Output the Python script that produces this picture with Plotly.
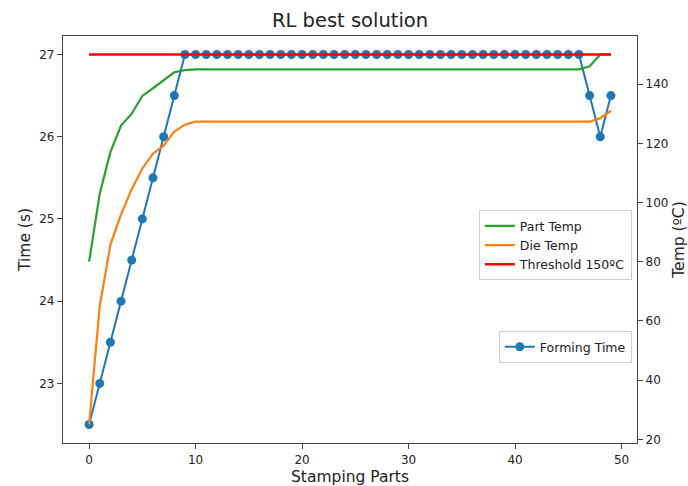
import plotly.graph_objects as go

parts = list(range(50))

forming_time = [22.5, 23.0, 23.5, 24.0, 24.5, 25.0, 25.5, 26.0, 26.5,
                27, 27, 27, 27, 27, 27, 27, 27, 27, 27,
                27, 27, 27, 27, 27, 27, 27, 27, 27, 27,
                27, 27, 27, 27, 27, 27, 27, 27, 27, 27,
                27, 27, 27, 27, 27, 27, 27, 27,
                26.5, 26.0, 26.5]

part_temp = [80, 103, 117, 126, 130, 136, 138.6, 141.2, 144, 144.7,
             145, 145, 145, 145, 145, 145, 145, 145, 145, 145,
             145, 145, 145, 145, 145, 145, 145, 145, 145, 145,
             145, 145, 145, 145, 145, 145, 145, 145, 145, 145,
             145, 145, 145, 145, 145, 145, 145,
             146, 150, 150]

die_temp = [25, 65, 85.7, 96, 104.5, 111.5, 116.5, 119.2, 124, 126.3,
            127.3, 127.3, 127.3, 127.3, 127.3, 127.3, 127.3, 127.3, 127.3, 127.3,
            127.3, 127.3, 127.3, 127.3, 127.3, 127.3, 127.3, 127.3, 127.3, 127.3,
            127.3, 127.3, 127.3, 127.3, 127.3, 127.3, 127.3, 127.3, 127.3, 127.3,
            127.3, 127.3, 127.3, 127.3, 127.3, 127.3, 127.3,
            127.3, 128.5, 131]

threshold = [150] * 50

x_ticks = [0, 10, 20, 30, 40, 50]
y_ticks = [23, 24, 25, 26, 27]
y2_ticks = [20, 40, 60, 80, 100, 120, 140]

FONT = "DejaVu Sans"
TXT = "#222222"
AX = "#444444"

fig = go.Figure()

fig.add_trace(go.Scatter(
    x=parts, y=forming_time, mode="lines+markers", name="Forming Time",
    line=dict(color="#1f77b4", width=2), marker=dict(color="#1f77b4", size=9),
    yaxis="y", legend="legend2"))

fig.add_trace(go.Scatter(
    x=parts, y=part_temp, mode="lines", name="Part Temp",
    line=dict(color="#2ca02c", width=2.2), yaxis="y2", legend="legend"))
fig.add_trace(go.Scatter(
    x=parts, y=die_temp, mode="lines", name="Die Temp",
    line=dict(color="#ff7f0e", width=2.2), yaxis="y2", legend="legend"))
fig.add_trace(go.Scatter(
    x=parts, y=threshold, mode="lines", name="Threshold 150ºC",
    line=dict(color="#ff0000", width=2.4), yaxis="y2", legend="legend"))

axis_common = dict(showgrid=False, zeroline=False, showline=True, linecolor=AX,
                   linewidth=1.3, ticks="outside", ticklen=5, tickcolor=AX,
                   tickfont=dict(family=FONT, size=12, color=TXT))

fig.update_layout(
    width=688, height=486,
    margin=dict(l=63, r=51, t=36, b=43, autoexpand=False),
    paper_bgcolor="white", plot_bgcolor="white",
    font=dict(family=FONT, color=TXT),
    title=dict(text="RL best solution", x=0.5, xref="paper", xanchor="center",
               y=0.958, yref="container", yanchor="middle",
               font=dict(family=FONT, size=19.5, color=TXT)),
    xaxis=dict(range=[-2.45, 51.45], tickvals=x_ticks, mirror=True,
               title=dict(text="Stamping Parts", font=dict(family=FONT, size=15.5, color=TXT), standoff=6),
               **axis_common),
    yaxis=dict(range=[22.275, 27.225], tickvals=y_ticks,
               title=dict(text="Time (s)", font=dict(family=FONT, size=15.5, color=TXT), standoff=4),
               **axis_common),
    yaxis2=dict(range=[18.75, 156.25], tickvals=y2_ticks, overlaying="y", side="right",
                title=dict(text="Temp (ºC)", font=dict(family=FONT, size=15.5, color=TXT), standoff=8),
                **axis_common),
    legend=dict(x=0.991, y=0.572, xanchor="right", yanchor="top",
                bgcolor="rgba(255,255,255,0.8)", bordercolor="#cccccc", borderwidth=1,
                font=dict(family=FONT, size=12.5, color=TXT), itemwidth=30,
                tracegroupgap=0),
    legend2=dict(x=0.991, y=0.275, xanchor="right", yanchor="top",
                 bgcolor="rgba(255,255,255,0.8)", bordercolor="#cccccc", borderwidth=1,
                 font=dict(family=FONT, size=12.5, color=TXT), itemwidth=30),
    showlegend=True,
)

fig.write_html("out.html", config={"displayModeBar": False},
               post_script="document.body.style.margin='0';document.body.style.overflow='hidden';")
